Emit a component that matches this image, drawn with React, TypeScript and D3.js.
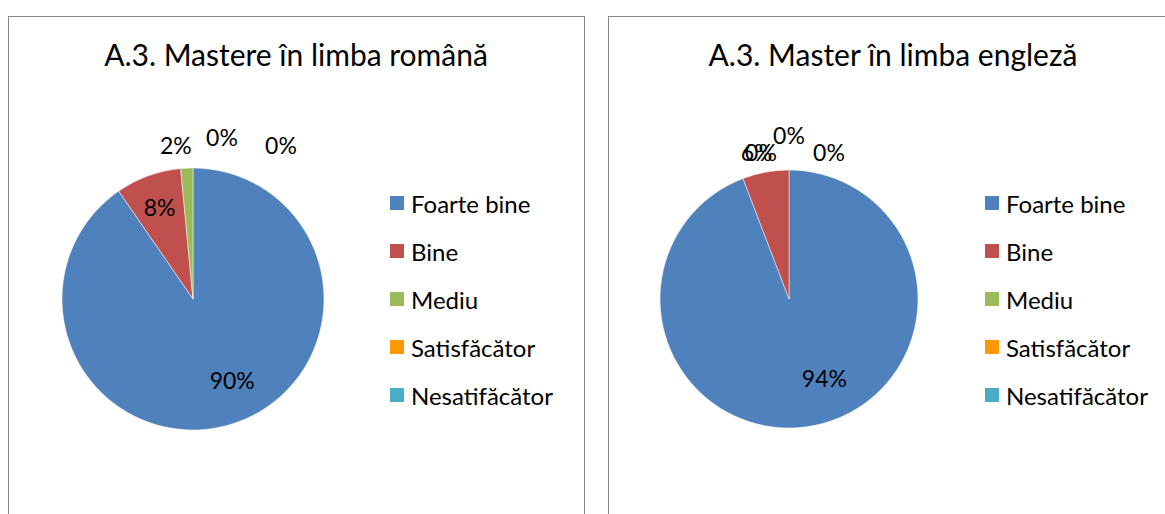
import React from 'react';
import * as d3 from 'd3';

// categories shared by both pies
const categories = ['Foarte bine', 'Bine', 'Mediu', 'Satisfăcător', 'Nesatifăcător'];
const colors = ['#4F81BD', '#C0504D', '#9BBB59', '#FF9900', '#4BACC6'];

// percentages
const romanaValues = [90.4, 8.1, 1.5, 0, 0];
const englezaValues = [94.2, 5.8, 0, 0, 0];

const romanaTitle = 'A.3. Mastere în limba română';
const englezaTitle = 'A.3. Master în limba engleză';

const FONT = 'Lato, "Open Sans", sans-serif';

interface PanelProps {
  x: number;
  width: number;
  title: string;
  values: number[];
  cx: number;
  cy: number;
  r: number;
  legendX: number;
  nudges: Array<[number, number]>; // label tweaks like Excel's best fit
}

const PiePanel: React.FC<PanelProps> = ({ x, width, title, values, cx, cy, r, legendX, nudges }) => {
  const total = d3.sum(values);
  const arcs = d3.pie<number>().sort(null).value(d => d)(values);
  const arcGen = d3.arc<d3.PieArcDatum<number>>().innerRadius(0).outerRadius(r);

  const legendY = d3.scalePoint<string>()
    .domain(categories)
    .range([203, 395]);

  const labelPos = (a: d3.PieArcDatum<number>, i: number) => {
    const frac = a.value / total;
    const mid = (a.startAngle + a.endAngle) / 2;
    const R = frac >= 0.07 ? r * 0.7 : r + 22;
    return [cx + Math.sin(mid) * R + nudges[i][0], cy - Math.cos(mid) * R + nudges[i][1]];
  };

  return (
    <g>
      <rect x={x + 0.5} y={16.5} width={width} height={600} fill="#fff" stroke="#868686" strokeWidth={1} />
      <text x={x + width / 2} y={66} textAnchor="middle" fontSize={30} fill="#000">{title}</text>
      {arcs.map((a, i) => (
        <path key={i} d={arcGen(a) || ''} transform={`translate(${cx},${cy})`} fill={colors[i]}
          stroke="#fff" strokeWidth={a.value > 0 ? 0.5 : 0} />
      ))}
      {arcs.map((a, i) => {
        const [lx, ly] = labelPos(a, i);
        return (
          <text key={i} x={lx} y={ly} textAnchor="middle" dominantBaseline="central" fontSize={23} fill="#000">
            {Math.round((a.value / total) * 100)}%
          </text>
        );
      })}
      {categories.map((c, i) => (
        <g key={c} transform={`translate(${legendX},${legendY(c)})`}>
          <rect x={0} y={-7} width={14} height={14} fill={colors[i]} />
          <text x={21} y={0} dominantBaseline="central" fontSize={24} fill="#000">{c}</text>
        </g>
      ))}
    </g>
  );
};

const App: React.FC = () => {
  return (
    <div style={{ position: 'absolute', left: 0, top: 0 }}>
      <svg width={1165} height={514} style={{ display: 'block', fontFamily: FONT }}>
        <rect width={1165} height={514} fill="#fff" />
        <PiePanel x={8} width={576} title={romanaTitle} values={romanaValues}
          cx={193} cy={299} r={131} legendX={390}
          nudges={[[12, -7], [-2, -6], [-10, -1], [29, -9], [88, -1]]} />
        <PiePanel x={608} width={570} title={englezaTitle} values={englezaValues}
          cx={789} cy={299} r={129} legendX={985}
          nudges={[[19, -10], [-5, 2], [-28, 4], [0, -13], [40, 4]]} />
      </svg>
    </div>
  );
};

export default App;
